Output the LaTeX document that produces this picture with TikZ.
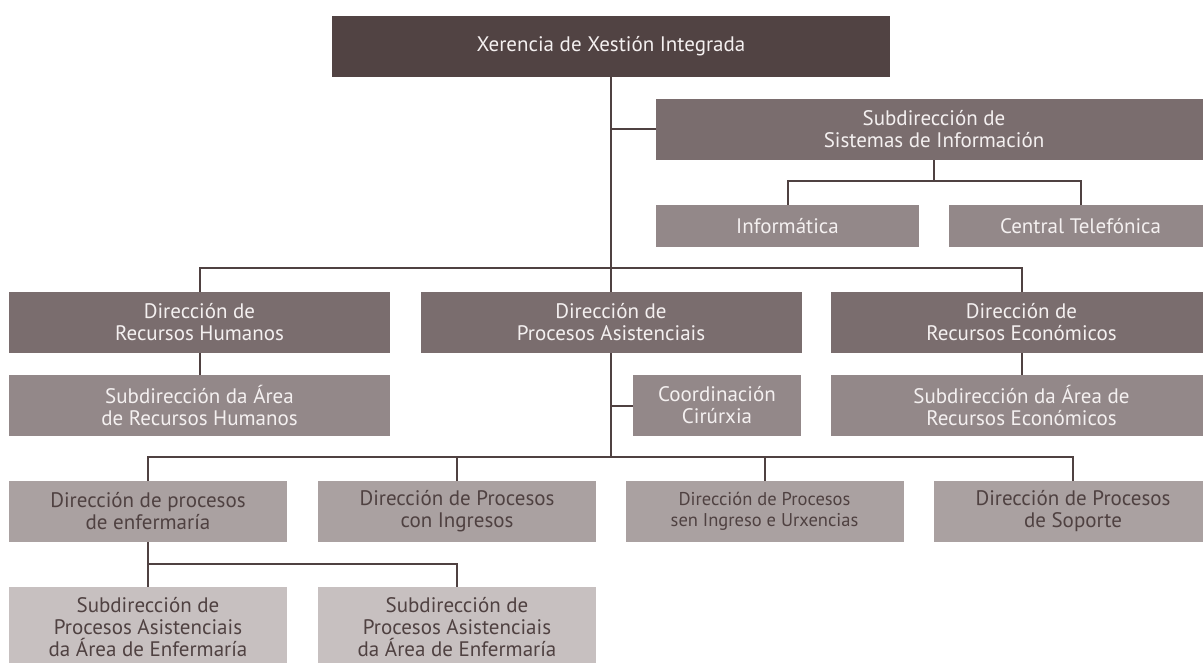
\documentclass[tikz,border=0pt]{standalone}
\usepackage{fontspec}
\setmainfont{PT Sans}
\usepackage{tikz}

\definecolor{tone0}{HTML}{514343}
\definecolor{tone1}{HTML}{7A6D6E}
\definecolor{tone2}{HTML}{938889}
\definecolor{tone3}{HTML}{AAA1A1}
\definecolor{tone4}{HTML}{C7C0C0}
\definecolor{inkdark}{HTML}{4F4141}
\definecolor{inklight}{HTML}{F4F0F0}

\begin{document}
\begin{tikzpicture}[
		x=1pt, y=-1pt,
		every node/.style={rectangle, inner sep=0pt, align=center,
			font=\fontsize{21}{22}\selectfont},
		unit/.style={minimum height=61pt, text=inklight},
		head/.style={unit, fill=tone0, minimum width=558pt},
		dir/.style={unit, fill=tone1, minimum width=381pt},
		sub/.style={unit, fill=tone2, minimum width=381pt},
		small/.style={minimum height=42pt, minimum width=263pt, fill=tone2, text=inklight},
		proc/.style={minimum height=61pt, minimum width=278pt, fill=tone3, text=inkdark},
		subproc/.style={minimum height=80pt, minimum width=278pt, fill=tone4, text=inkdark},
		link/.style={draw=inkdark, line width=2pt}
	]
  \clip (0, 0) rectangle (1203, 663);
  \node (xer) [head] at (611, 46.5) {Xerencia de Xestión Integrada};
  \node (sis) [dir, minimum width=556pt] at (934, 129.5) {Subdirección de\\Sistemas de Información};
  \node (inf) [small] at (787.5, 226) {Informática};
  \node (cen) [small] at (1080.5, 226) {Central Telefónica};
  \node (rrhh) [dir] at (199.5, 322.5) {Dirección de\\Recursos Humanos};
  \node (asi) [dir] at (611, 322.5) {Dirección de\\Procesos Asistenciais};
  \node (eco) [dir] at (1021.5, 322.5) {Dirección de\\Recursos Económicos};
  \node (srrhh) [sub] at (199.5, 405.5) {Subdirección da Área\\de Recursos Humanos};
  \node (coo) [sub, minimum width=168pt] at (717, 405.5) {Coordinación\\Cirúrxia};
  \node (seco) [sub] at (1021.5, 405.5) {Subdirección da Área de\\Recursos Económicos};
  \node (enf) [proc] at (148, 511.5) {Dirección de procesos\\de enfermaría};
  \node (ing) [proc] at (457, 511.5) {Dirección de Procesos\\con Ingresos};
  \node (urx) [proc, font=\fontsize{18.5}{21}\selectfont] at (764.5, 511.5) {Dirección de Procesos\\sen Ingreso e Urxencias};
  \node (sop) [proc] at (1073, 511.5) {Dirección de Procesos\\de Soporte};
  \node (se_a) [subproc] at (148, 627) {Subdirección de\\Procesos Asistenciais\\da Área de Enfermaría};
  \node (se_b) [subproc] at (457, 627) {Subdirección de\\Procesos Asistenciais\\da Área de Enfermaría};
  \coordinate (j_sis) at (934, 181);
  \coordinate (j_dir) at (611, 268);
  \coordinate (j_proc) at (611, 457);
  \coordinate (j_enf) at (148, 564);
  \draw [link] (xer) -- (asi);
  \draw [link] (xer.south |- sis.west) -- (sis.west);
  \draw [link] (sis) -- (j_sis);
  \draw [link] (inf) |- (j_sis) -| (cen);
  \draw [link] (rrhh) |- (j_dir) -| (eco);
  \draw [link] (rrhh) -- (srrhh);
  \draw [link] (eco) -- (seco);
  \draw [link] (asi) -- (j_proc);
  \draw [link] (asi.south |- coo.west) -- (coo.west);
  \draw [link] (enf) |- (j_proc) -| (sop);
  \draw [link] (ing) -- (ing |- j_proc);
  \draw [link] (urx) -- (urx |- j_proc);
  \draw [link] (enf) -- (j_enf);
  \draw [link] (se_a) |- (j_enf) -| (se_b);
\end{tikzpicture}
\end{document}
